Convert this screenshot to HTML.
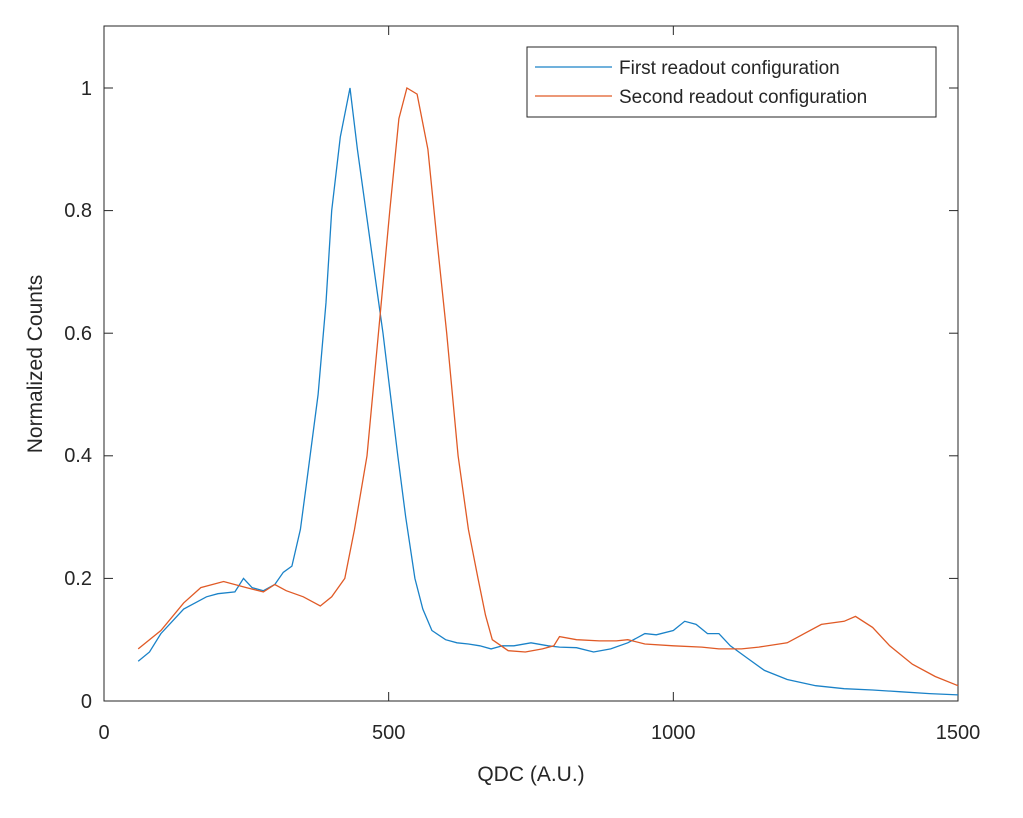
<!DOCTYPE html>
<html><head><style>body{margin:0;background:#fff}svg{display:block}text{font-family:"Liberation Sans",Arial,sans-serif;fill:#262626}</style></head>
<body>
<svg id="s" width="1023" height="818" viewBox="0 0 1023 818">
<rect x="104" y="26" width="854" height="675" fill="#fff" stroke="#262626" stroke-width="1"/>
<g id="ax" stroke="#262626" stroke-width="1"></g>
<g font-size="20" text-anchor="middle">
<text x="104" y="739">0</text><text x="388.7" y="739">500</text><text x="673.3" y="739">1000</text><text x="958" y="739">1500</text>
</g>
<g font-size="20" text-anchor="end">
<text x="92" y="708">0</text><text x="92" y="585">0.2</text><text x="92" y="462">0.4</text><text x="92" y="340">0.6</text><text x="92" y="217">0.8</text><text x="92" y="95">1</text>
</g>
<text x="531" y="781" font-size="21" text-anchor="middle">QDC (A.U.)</text>
<text transform="translate(42,364) rotate(-90)" font-size="21" text-anchor="middle">Normalized Counts</text>
<path id="b" fill="none" stroke="#1a82c8" stroke-width="1.3"/>
<path id="r" fill="none" stroke="#e05a26" stroke-width="1.3"/>
<rect x="527" y="47" width="409" height="70" fill="#fff" stroke="#262626"/>
<line x1="535" y1="67" x2="612" y2="67" stroke="#1a82c8" stroke-width="1.3"/>
<line x1="535" y1="96" x2="612" y2="96" stroke="#e05a26" stroke-width="1.3"/>
<text x="619" y="74" font-size="19">First readout configuration</text>
<text x="619" y="103" font-size="19">Second readout configuration</text>
</svg>
<script>
var X=function(v){return 104+v*0.56933},Y=function(v){return 701-v*613};
var B=[[60,0.065],[80,0.08],[100,0.11],[120,0.13],[140,0.15],[160,0.16],[180,0.17],[200,0.175],[230,0.178],[245,0.2],[260,0.185],[280,0.18],[300,0.19],[315,0.21],[330,0.22],[345,0.28],[355,0.35],[376,0.5],[390,0.65],[400,0.8],[415,0.92],[432,1.0],[445,0.9],[460,0.8],[475,0.7],[490,0.6],[503,0.5],[516,0.4],[530,0.3],[546,0.2],[560,0.15],[576,0.115],[600,0.1],[620,0.095],[640,0.093],[660,0.09],[680,0.085],[700,0.09],[720,0.09],[750,0.095],[780,0.09],[800,0.088],[830,0.087],[860,0.08],[890,0.085],[920,0.095],[950,0.11],[970,0.108],[1000,0.115],[1020,0.13],[1040,0.125],[1060,0.11],[1080,0.11],[1100,0.09],[1130,0.07],[1160,0.05],[1200,0.035],[1250,0.025],[1300,0.02],[1350,0.018],[1400,0.015],[1450,0.012],[1500,0.01]];
var R=[[60,0.085],[100,0.115],[140,0.16],[170,0.185],[210,0.195],[250,0.185],[280,0.178],[300,0.19],[320,0.18],[350,0.17],[370,0.16],[380,0.155],[400,0.17],[423,0.2],[440,0.28],[462,0.4],[480,0.58],[502,0.8],[518,0.95],[532,1.0],[550,0.99],[569,0.9],[585,0.75],[602,0.6],[622,0.4],[640,0.28],[657,0.2],[670,0.14],[682,0.1],[710,0.082],[740,0.08],[770,0.085],[790,0.09],[800,0.105],[830,0.1],[870,0.098],[900,0.098],[920,0.1],[950,0.093],[1000,0.09],[1050,0.088],[1080,0.085],[1120,0.085],[1150,0.088],[1200,0.095],[1230,0.11],[1260,0.125],[1300,0.13],[1320,0.138],[1350,0.12],[1380,0.09],[1420,0.06],[1460,0.04],[1500,0.025]];
function p(a){return a.map(function(q,i){return (i?'L':'M')+X(q[0]).toFixed(1)+' '+Y(q[1]).toFixed(1)}).join('')}
document.getElementById('b').setAttribute('d',p(B));
document.getElementById('r').setAttribute('d',p(R));
var g=document.getElementById('ax'),h='';
[0,500,1000,1500].forEach(function(v){var x=X(v);h+='<line x1="'+x+'" y1="701" x2="'+x+'" y2="692"/><line x1="'+x+'" y1="26" x2="'+x+'" y2="35"/>';});
[0,0.2,0.4,0.6,0.8,1].forEach(function(v){var y=Y(v);h+='<line x1="104" y1="'+y+'" x2="113" y2="'+y+'"/><line x1="958" y1="'+y+'" x2="949" y2="'+y+'"/>';});
g.innerHTML=h;
</script>
</body></html>
